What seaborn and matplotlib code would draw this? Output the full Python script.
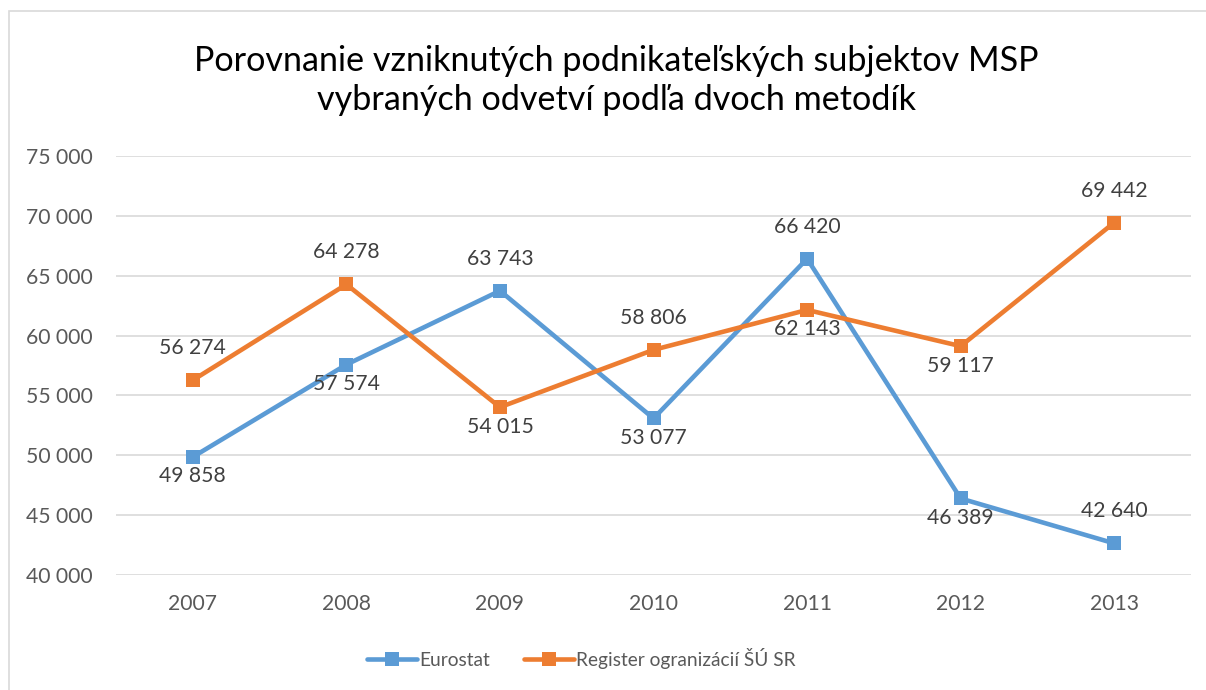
import numpy as np
import pandas as pd
import matplotlib.pyplot as plt
import seaborn as sns
from matplotlib.patches import Rectangle
from matplotlib.lines import Line2D

# data
roky = [2007, 2008, 2009, 2010, 2011, 2012, 2013]
eurostat = [49858, 57574, 63743, 53077, 66420, 46389, 42640]
register = [56274, 64278, 54015, 58806, 62143, 59117, 69442]
# label placement: 1 = above the point, -1 = below
eurostat_pos = [-1, -1, 1, -1, 1, -1, 1]
register_pos = [1, 1, -1, 1, -1, -1, 1]

serie = ["Eurostat", "Register ogranizácií ŠÚ SR"]
farby = ["#5B9BD5", "#ED7D31"]
y_ticks = [40000, 45000, 50000, 55000, 60000, 65000, 70000, 75000]

df = pd.DataFrame({
    "rok": roky * 2,
    "pocet": eurostat + register,
    "zdroj": [serie[0]] * len(roky) + [serie[1]] * len(roky),
})


def fmt(v):
    return f"{v:,}".replace(",", " ")


sns.set_theme(style="white")
plt.rcParams["font.family"] = ["Lato", "DejaVu Sans"]

fig = plt.figure(figsize=(12.06, 6.9), dpi=100)
ax = fig.add_axes([0.0962, 0.1667, 0.8914, 0.6072])

# chart frame, cut off on the right and bottom
fig.patches.append(Rectangle((9 / 1206, -0.5), 2, 0.5 + 1 - 11 / 690,
                             transform=fig.transFigure, fill=False,
                             edgecolor="#D9D9D9", linewidth=1.2))

sns.lineplot(data=df, x="rok", y="pocet", hue="zdroj", palette=farby,
             marker="s", markersize=9.5, markeredgewidth=0, linewidth=3.3,
             ax=ax, legend=False, zorder=3)

for vals, pos in [(eurostat, eurostat_pos), (register, register_pos)]:
    for x, v, p in zip(roky, vals, pos):
        ax.annotate(fmt(v), (x, v), xytext=(0, 23 if p > 0 else -14),
                    textcoords="offset points", ha="center", va="center",
                    fontsize=15.2, color="#404040")

ax.set_xlim(2006.5, 2013.5)
ax.set_ylim(40000, 75000)
ax.set_yticks(y_ticks)
ax.set_yticklabels([fmt(t) for t in y_ticks])
ax.set_xticks(roky)
ax.set_xticklabels([str(r) for r in roky])
ax.tick_params(axis="both", length=0, labelsize=15.2, colors="#595959")
ax.tick_params(axis="y", pad=17)
ax.tick_params(axis="x", pad=14)
ax.set_xlabel("")
ax.set_ylabel("")
ax.yaxis.grid(True, color="#D9D9D9", linewidth=1.2)
ax.xaxis.grid(False)
for s in ax.spines.values():
    s.set_visible(False)

fig.text(0.511, 0.883, "Porovnanie vzniknutých podnikateľských subjektov MSP\n"
         "vybraných odvetví podľa dvoch metodík",
         ha="center", va="center", fontsize=24.6, color="#000000",
         linespacing=1.27)

handles = [Line2D([], [], color=c, linewidth=3.3, marker="s", markersize=9.5,
                  markeredgewidth=0) for c in farby]
fig.legend(handles, serie, loc="center", bbox_to_anchor=(0.482, 0.046),
           ncol=2, frameon=False, fontsize=13.8, handlelength=2.6,
           handletextpad=0.12, columnspacing=1.8, labelcolor="#595959")

fig.savefig("out.png", dpi=100)
